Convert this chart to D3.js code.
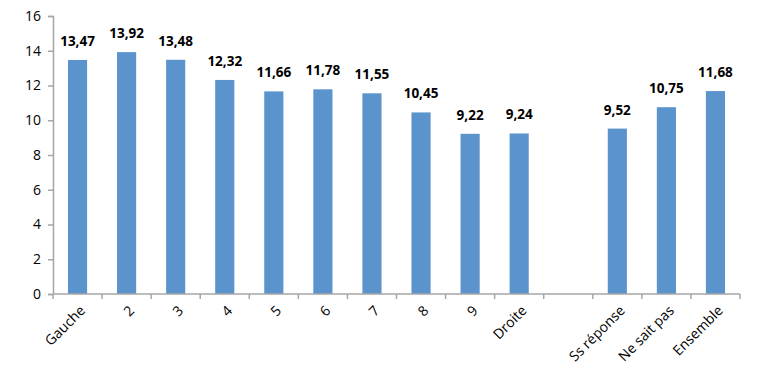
<!DOCTYPE html>
<html>
<head>
<meta charset="utf-8">
<script src="https://cdn.jsdelivr.net/npm/d3@7"></script>
<style>
  body { margin: 0; background: #fff; }
  text { font-family: "Open Sans", sans-serif; }
</style>
</head>
<body>
<svg id="chart"></svg>
<script>
// categories (empty slot between Droite and Ss réponse)
var categories = ["Gauche", "2", "3", "4", "5", "6", "7", "8", "9", "Droite", "", "Ss réponse", "Ne sait pas", "Ensemble"];
var values = [13.47, 13.92, 13.48, 12.32, 11.66, 11.78, 11.55, 10.45, 9.22, 9.24, null, 9.52, 10.75, 11.68];
var yTicks = [0, 2, 4, 6, 8, 10, 12, 14, 16];

var width = 760, height = 386;
var padding = { top: 16, right: 20, bottom: 92, left: 53 };

var svg = d3.select("#chart")
            .attr("width", width)
            .attr("height", height);

var xScale = d3.scaleBand()
               .domain(d3.range(categories.length))
               .range([padding.left, width - padding.right])
               .paddingInner(0.61)
               .paddingOuter(0.305);

var yScale = d3.scaleLinear()
               .domain([0, 16])
               .range([height - padding.bottom, padding.top]);

var bandW = (width - padding.left - padding.right) / categories.length;
var fmt = d => d3.format(".2f")(d).replace(".", ",");

// bars
svg.selectAll(".bar")
   .data(values.map((v, i) => ({ v: v, i: i })).filter(d => d.v !== null))
   .enter()
   .append("rect")
     .classed("bar", true)
     .attr("x", d => xScale(d.i))
     .attr("width", xScale.bandwidth())
     .attr("y", d => yScale(d.v))
     .attr("height", d => yScale(0) - yScale(d.v))
     .attr("fill", "#5B93CD");

// value labels
svg.selectAll(".val")
   .data(values.map((v, i) => ({ v: v, i: i })).filter(d => d.v !== null))
   .enter()
   .append("text")
     .attr("x", d => xScale(d.i) + xScale.bandwidth() / 2)
     .attr("y", d => yScale(d.v) - 14)
     .attr("text-anchor", "middle")
     .style("font-size", "13.5px")
     .style("font-weight", "bold")
     .attr("fill", "#000")
     .text(d => fmt(d.v));

// y axis
var yAxis = d3.axisLeft(yScale).tickValues(yTicks).tickSize(5).tickPadding(7);
var gy = svg.append("g")
            .attr("transform", "translate(" + padding.left + ",0)")
            .call(yAxis);
gy.select(".domain").attr("stroke", "#a6a6a6").attr("stroke-width", 1.5);
gy.selectAll(".tick line").attr("stroke", "#a6a6a6").attr("stroke-width", 1.5);
gy.selectAll(".tick text")
  .style("font-size", "14px")
  .attr("fill", "#000");

// x axis: tick marks at category boundaries
var x0 = yScale(0);
var gx = svg.append("g");
gx.append("line")
  .attr("x1", padding.left).attr("x2", width - padding.right)
  .attr("y1", x0).attr("y2", x0)
  .attr("stroke", "#a6a6a6").attr("stroke-width", 1.5);
gx.selectAll(".bt")
  .data(d3.range(categories.length + 1))
  .enter()
  .append("line")
    .attr("x1", i => padding.left + i * bandW)
    .attr("x2", i => padding.left + i * bandW)
    .attr("y1", x0).attr("y2", x0 + 5)
    .attr("stroke", "#a6a6a6").attr("stroke-width", 1.5);

// category labels
gx.selectAll(".lab")
  .data(categories.map((c, i) => ({ c: c, i: i })).filter(d => d.c !== ""))
  .enter()
  .append("text")
    .attr("transform", d => "translate(" + (xScale(d.i) + xScale.bandwidth() / 2 + 5) + "," + (x0 + 14) + ") rotate(-45)")
    .attr("text-anchor", "end")
    .attr("dy", "0.35em")
    .style("font-size", "14px")
    .attr("fill", "#000")
    .text(d => d.c);
</script>
</body>
</html>
